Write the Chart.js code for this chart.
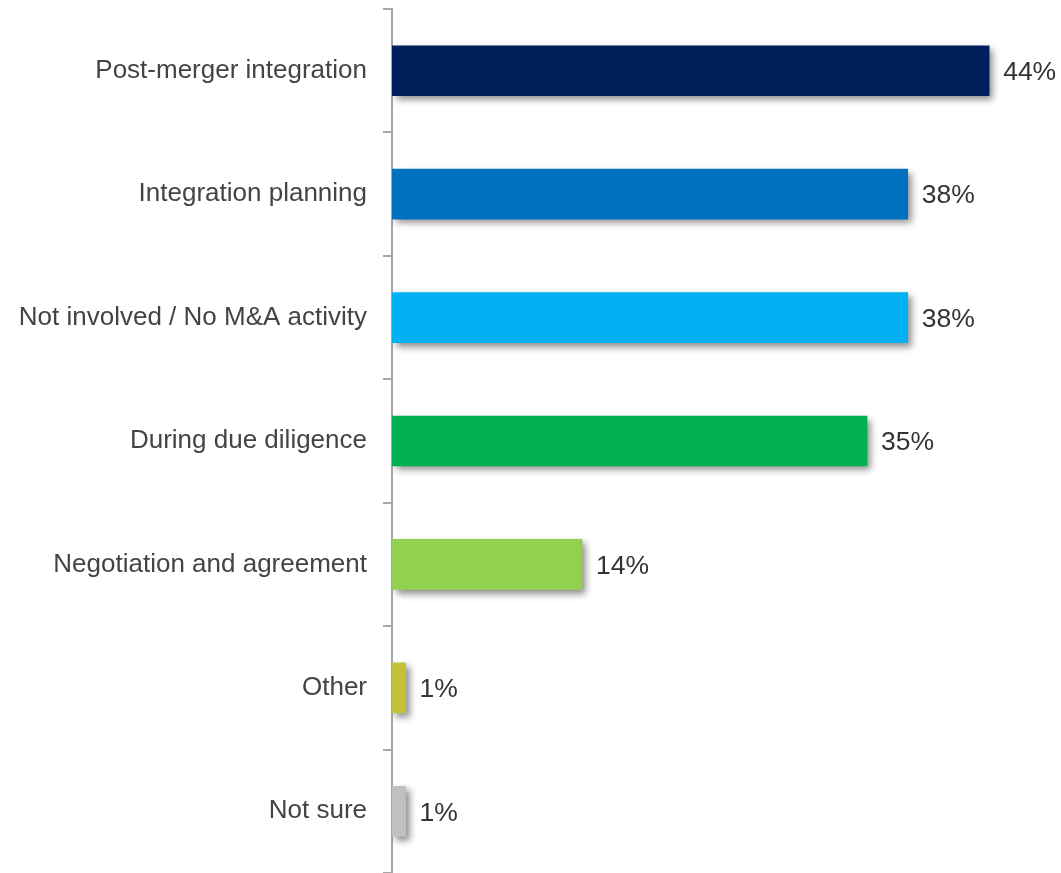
<!DOCTYPE html>
<html>
<head>
<meta charset="utf-8">
<script src="https://cdn.jsdelivr.net/npm/chart.js@4"></script>
<style>
  html, body { margin: 0; padding: 0; background: #fff; }
  #wrap { width: 1061px; height: 873px; }
</style>
</head>
<body>
<div id="wrap"><canvas id="stageChart"></canvas></div>
<script>
// survey answers, one bar per stage
const stages = [
  'Post-merger integration',
  'Integration planning',
  'Not involved / No M&A activity',
  'During due diligence',
  'Negotiation and agreement',
  'Other',
  'Not sure'
];
const shares = [44, 38, 38, 35, 14, 1, 1];
const barColors = ['#00205B', '#0070C0', '#00B0F0', '#00B050', '#92D050', '#C4C03C', '#C0C0C0'];

const FONT = '"Liberation Sans", Arial, Helvetica, sans-serif';

// soft drop shadow under the bars only
const barShadow = {
  id: 'barShadow',
  beforeDatasetsDraw(chart) {
    const ctx = chart.ctx;
    ctx.save();
    ctx.shadowColor = 'rgba(0,0,0,0.45)';
    ctx.shadowBlur = 7;
    ctx.shadowOffsetX = 4;
    ctx.shadowOffsetY = 4;
  },
  afterDatasetsDraw(chart) {
    chart.ctx.restore();
  }
};

// percentage text at the end of each bar
const valueLabels = {
  id: 'valueLabels',
  afterDatasetsDraw(chart) {
    const ctx = chart.ctx;
    const meta = chart.getDatasetMeta(0);
    ctx.save();
    ctx.font = '26.5px ' + FONT;
    ctx.fillStyle = '#333333';
    ctx.textAlign = 'left';
    ctx.textBaseline = 'middle';
    meta.data.forEach((bar, i) => {
      ctx.fillText(shares[i] + '%', bar.x + 14, bar.y + 2);
    });
    ctx.restore();
  }
};

const ctx = document.getElementById('stageChart').getContext('2d');

new Chart(ctx, {
  type: 'bar',
  data: {
    labels: stages,
    datasets: [{
      data: shares,
      backgroundColor: barColors,
      borderWidth: 0,
      barThickness: 50
    }]
  },
  options: {
    indexAxis: 'y',
    responsive: true,
    maintainAspectRatio: false,
    animation: false,
    layout: { padding: { top: 9, right: 4, bottom: 0, left: 0 } },
    plugins: {
      legend: { display: false },
      tooltip: { enabled: false }
    },
    scales: {
      x: {
        display: false,
        min: 0,
        max: 49
      },
      y: {
        afterFit(scale) {
          scale.width = 392;
          scale.paddingTop = 0;
          scale.paddingBottom = 0;
        },
        border: { display: true, color: '#A6A6A6', width: 2 },
        grid: {
          offset: true,
          drawOnChartArea: false,
          tickLength: 9,
          color: '#A6A6A6',
          lineWidth: 2
        },
        ticks: {
          padding: 16,
          color: '#444444',
          font: { family: FONT, size: 26 }
        }
      }
    }
  },
  plugins: [barShadow, valueLabels]
});
</script>
</body>
</html>
